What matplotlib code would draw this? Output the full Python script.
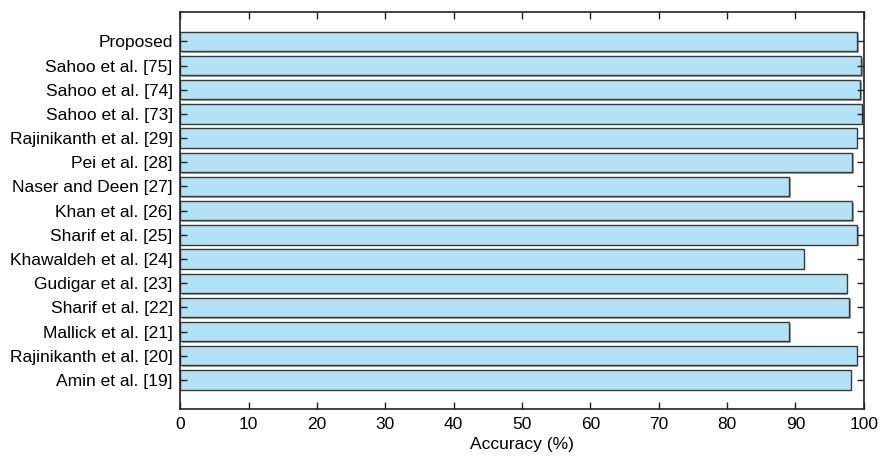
import matplotlib
matplotlib.use("Agg")
import matplotlib.pyplot as plt
import matplotlib.patheffects as pe

plt.rcParams['font.family'] = ['Liberation Sans', 'DejaVu Sans']

# methods listed bottom to top
methods = ['Amin et al. [19]', 'Rajinikanth et al. [20]', 'Mallick et al. [21]',
           'Sharif et al. [22]', 'Gudigar et al. [23]', 'Khawaldeh et al. [24]',
           'Sharif et al. [25]', 'Khan et al. [26]', 'Naser and Deen [27]',
           'Pei et al. [28]', 'Rajinikanth et al. [29]', 'Sahoo et al. [73]',
           'Sahoo et al. [74]', 'Sahoo et al. [75]', 'Proposed']
accuracy = [98.1, 99.0, 89.1, 97.9, 97.5, 91.2, 99.1, 98.3, 89.1,
            98.3, 99.0, 99.7, 99.5, 99.6, 99.1]

fig = plt.figure(figsize=(8.81, 4.57), dpi=100)
ax = fig.add_axes([0.2047, 0.105, 0.7756, 0.868])

pos = list(range(len(methods)))
bars = ax.barh(pos, accuracy, height=0.8, color='#b3e2f7', edgecolor='#3a3a3a',
               linewidth=1.0)
for b in bars:
    b.set_path_effects([pe.SimplePatchShadow(offset=(1.2, -1.2), shadow_rgbFace='#888888', alpha=0.8),
                        pe.Normal()])

ax.set_xlim(0, 100)
ax.set_ylim(-1.2, 15.2)
ax.set_xticks(range(0, 101, 10))
ax.set_yticks(pos)
ax.set_yticklabels(methods)
ax.tick_params(axis='both', direction='in', length=5, width=1, labelsize=12.5, pad=5.5,
               top=True, right=True, color='#222222')
ax.set_xlabel('Accuracy (%)', fontsize=12.5, labelpad=4)
for s in ax.spines.values():
    s.set_linewidth(1.2)
    s.set_color('#222222')

fig.savefig('out.png', dpi=100)
